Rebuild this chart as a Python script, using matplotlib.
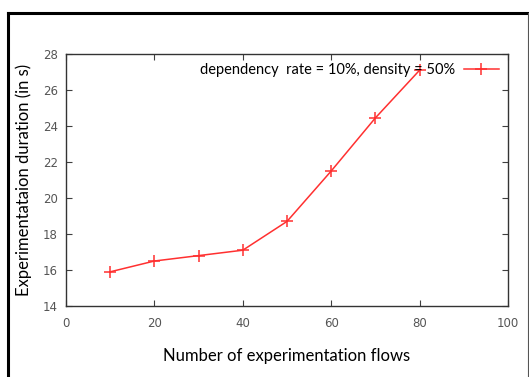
import matplotlib
matplotlib.use("Agg")
import matplotlib.pyplot as plt
from matplotlib.lines import Line2D

flows = [10, 20, 30, 40, 50, 60, 70, 80]
duration = [15.9, 16.5, 16.8, 17.1, 18.7, 21.5, 24.45, 27.1]
series_label = "dependency  rate = 10%, density = 50%"
x_ticks = [0, 20, 40, 60, 80, 100]
y_ticks = [14, 16, 18, 20, 22, 24, 26, 28]

fig = plt.figure(figsize=(5.29, 3.77), dpi=100)
ax = fig.add_axes([0.1248, 0.1883, 0.8355, 0.6685])

ax.plot(flows, duration, color="#ff3030", lw=1.1, marker="+", ms=8, mew=1.1,
        label=series_label)

ax.set_xlim(0, 100)
ax.set_ylim(14, 28)
ax.set_xticks(x_ticks)
ax.set_yticks(y_ticks)
ax.tick_params(direction="in", top=True, right=True, length=4, width=0.8,
               labelsize=8.5, labelcolor="#555555", colors="#404040", pad=6)
ax.tick_params(axis="x", pad=8)
for s in ax.spines.values():
    s.set_linewidth(1.0)
    s.set_color("#333333")

ax.set_xlabel("Number of experimentation flows", family="Lato", fontsize=12, labelpad=13)
ax.set_ylabel("Experimentataion duration (in s)", family="Lato", fontsize=12, labelpad=8)

leg = ax.legend(loc="upper right", frameon=False, prop={"family": "Lato", "size": 10.5},
                markerfirst=False, handlelength=2.4, borderaxespad=0.25, handletextpad=0.6)

# outer frame of the figure
fig.add_artist(Line2D([8 / 529, 8 / 529], [0, 1 - 12.5 / 377], color="black", lw=2.2,
                      transform=fig.transFigure))
fig.add_artist(Line2D([8 / 529, 1], [1 - 12.5 / 377, 1 - 12.5 / 377], color="black", lw=2.2,
                      transform=fig.transFigure))
fig.add_artist(Line2D([528 / 529, 528 / 529], [0, 1 - 12.5 / 377], color="#555555", lw=0.8,
                      transform=fig.transFigure))

fig.savefig("out.png", dpi=100)
